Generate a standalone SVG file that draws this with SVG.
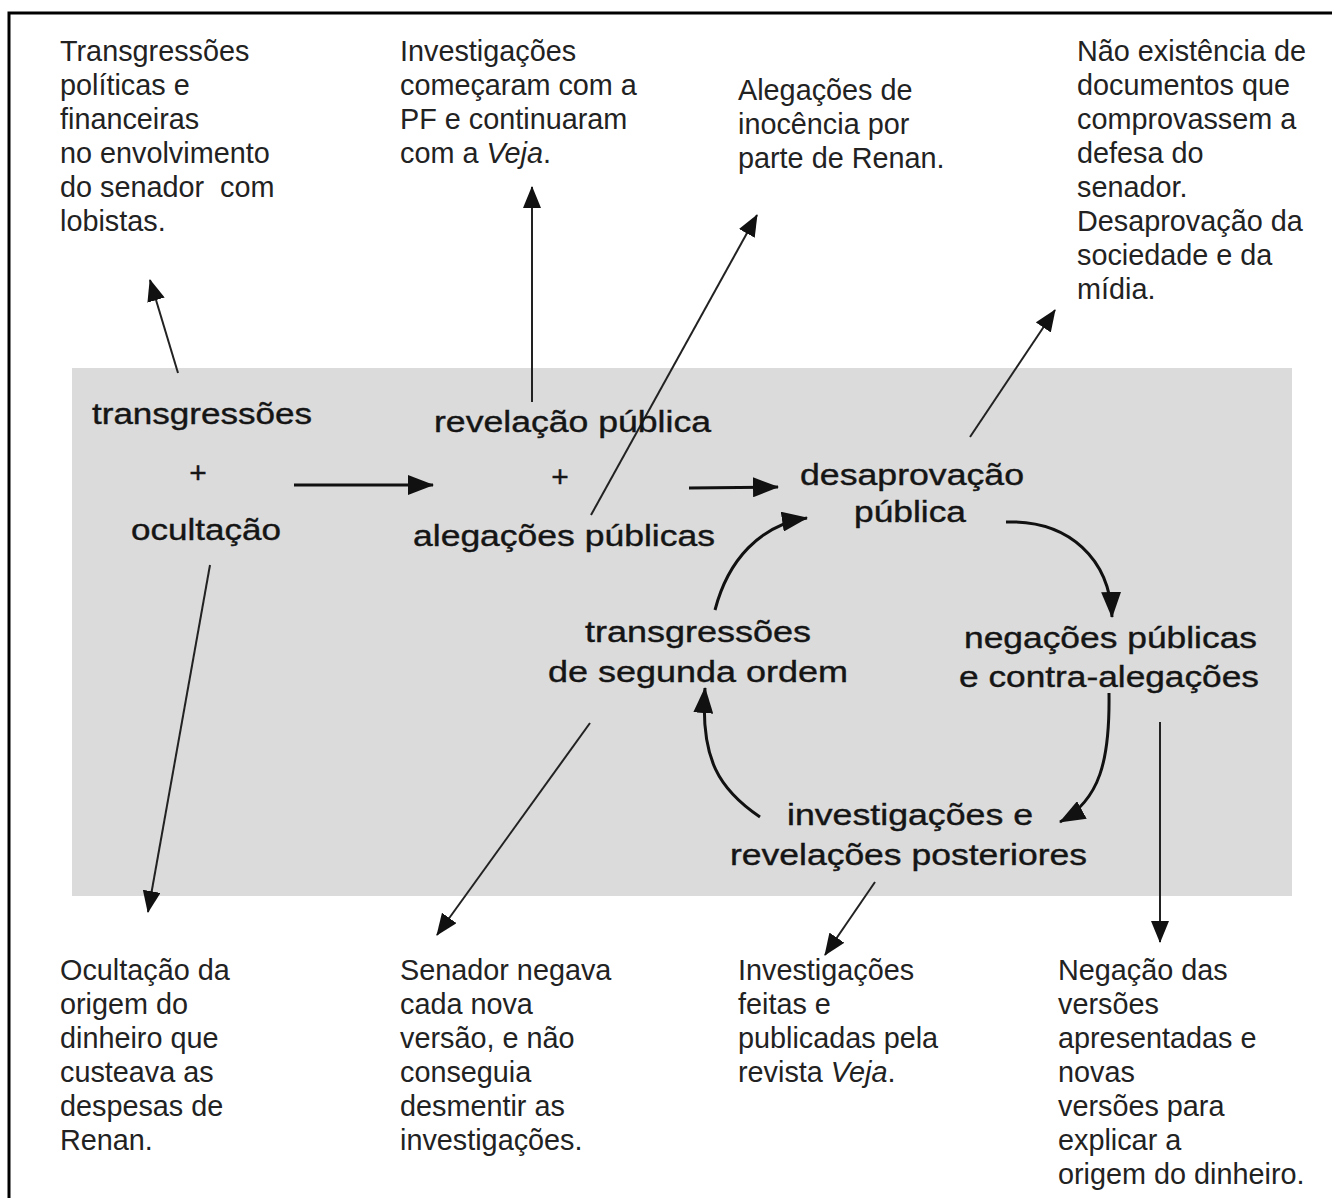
<svg xmlns="http://www.w3.org/2000/svg" width="1332" height="1198" viewBox="0 0 1332 1198">
<defs>
<style>
.ann{font-family:"Liberation Sans",Arial,sans-serif;font-size:28.8px;fill:#222}
.mid{font-family:"Liberation Sans",Arial,sans-serif;font-size:30px;fill:#151515;stroke:#151515;stroke-width:0.4}
.flow{fill:none;stroke:#111;stroke-width:3;marker-end:url(#big)}
.lead{fill:none;stroke:#222;stroke-width:2;marker-end:url(#small)}
</style>
<marker id="big" markerUnits="userSpaceOnUse" markerWidth="26" markerHeight="20" refX="25" refY="10" orient="auto">
<path d="M0,0 L26,10 L0,20 Z" fill="#111"/>
</marker>
<marker id="small" markerUnits="userSpaceOnUse" markerWidth="22" markerHeight="18" refX="21" refY="9" orient="auto">
<path d="M0,0 L22,9 L0,18 Z" fill="#111"/>
</marker>
</defs>
<rect x="0" y="0" width="1332" height="1198" fill="#ffffff"/>
<path d="M9,1198 L9,13 L1332,13" fill="none" stroke="#000" stroke-width="3"/>
<rect x="72" y="368" width="1220" height="528" fill="#dbdbdb"/>

<g id="connectors">
<path class="flow" d="M294,485 L433,485"/>
<path class="flow" d="M689,488 L778,487"/>
<path class="flow" d="M715,610 C728,560 760,525 807,518"/>
<path class="flow" d="M1006,522 C1070,520 1110,560 1112,617"/>
<path class="flow" d="M1109,693 C1110,760 1100,800 1060,822"/>
<path class="flow" d="M760,817 C720,790 700,760 705,688"/>
<path class="lead" d="M178,373 L150,280"/>
<path class="lead" d="M532,402 L532,187"/>
<path class="lead" d="M591,515 L757,215"/>
<path class="lead" d="M970,437 L1055,310"/>
<path class="lead" d="M210,565 L148,912"/>
<path class="lead" d="M590,723 L437,935"/>
<path class="lead" d="M875,882 L825,955"/>
<path class="lead" d="M1160,722 L1160,942"/>
</g>

<g id="node-transgressoes-ocultacao">
<text class="mid" x="92" y="424" textLength="220" lengthAdjust="spacingAndGlyphs">transgressões</text>
<text class="mid" x="198" y="483" text-anchor="middle">+</text>
<text class="mid" x="131" y="540" textLength="150" lengthAdjust="spacingAndGlyphs">ocultação</text>
</g>
<g id="node-revelacao-alegacoes">
<text class="mid" x="434" y="432" textLength="277" lengthAdjust="spacingAndGlyphs">revelação pública</text>
<text class="mid" x="560" y="487" text-anchor="middle">+</text>
<text class="mid" x="413" y="546" textLength="302" lengthAdjust="spacingAndGlyphs">alegações públicas</text>
</g>
<g id="node-desaprovacao">
<text class="mid" x="800" y="485" textLength="224" lengthAdjust="spacingAndGlyphs">desaprovação</text>
<text class="mid" x="854" y="522" textLength="112" lengthAdjust="spacingAndGlyphs">pública</text>
</g>
<g id="node-segunda-ordem">
<text class="mid" x="585" y="642" textLength="226" lengthAdjust="spacingAndGlyphs">transgressões</text>
<text class="mid" x="548" y="682" textLength="300" lengthAdjust="spacingAndGlyphs">de segunda ordem</text>
</g>
<g id="node-negacoes">
<text class="mid" x="964" y="648" textLength="293" lengthAdjust="spacingAndGlyphs">negações públicas</text>
<text class="mid" x="959" y="687" textLength="300" lengthAdjust="spacingAndGlyphs">e contra-alegações</text>
</g>
<g id="node-investigacoes">
<text class="mid" x="787" y="825" textLength="246" lengthAdjust="spacingAndGlyphs">investigações e</text>
<text class="mid" x="730" y="865" textLength="357" lengthAdjust="spacingAndGlyphs">revelações posteriores</text>
</g>

<g id="note-transgressoes">
<text class="ann" x="60" y="61">Transgressões</text>
<text class="ann" x="60" y="95">políticas e</text>
<text class="ann" x="60" y="129">financeiras</text>
<text class="ann" x="60" y="163">no envolvimento</text>
<text class="ann" x="60" y="197" xml:space="preserve">do senador  com</text>
<text class="ann" x="60" y="231">lobistas.</text>
</g>
<g id="note-investigacoes-pf">
<text class="ann" x="400" y="61">Investigações</text>
<text class="ann" x="400" y="95">começaram com a</text>
<text class="ann" x="400" y="129">PF e continuaram</text>
<text class="ann" x="400" y="163">com a <tspan font-style="italic">Veja</tspan>.</text>
</g>
<g id="note-alegacoes">
<text class="ann" x="738" y="100">Alegações de</text>
<text class="ann" x="738" y="134">inocência por</text>
<text class="ann" x="738" y="168">parte de Renan.</text>
</g>
<g id="note-desaprovacao">
<text class="ann" x="1077" y="61">Não existência de</text>
<text class="ann" x="1077" y="95">documentos que</text>
<text class="ann" x="1077" y="129">comprovassem a</text>
<text class="ann" x="1077" y="163">defesa do</text>
<text class="ann" x="1077" y="197">senador.</text>
<text class="ann" x="1077" y="231">Desaprovação da</text>
<text class="ann" x="1077" y="265">sociedade e da</text>
<text class="ann" x="1077" y="299">mídia.</text>
</g>
<g id="note-ocultacao">
<text class="ann" x="60" y="980">Ocultação da</text>
<text class="ann" x="60" y="1014">origem do</text>
<text class="ann" x="60" y="1048">dinheiro que</text>
<text class="ann" x="60" y="1082">custeava as</text>
<text class="ann" x="60" y="1116">despesas de</text>
<text class="ann" x="60" y="1150">Renan.</text>
</g>
<g id="note-senador">
<text class="ann" x="400" y="980">Senador negava</text>
<text class="ann" x="400" y="1014">cada nova</text>
<text class="ann" x="400" y="1048">versão, e não</text>
<text class="ann" x="400" y="1082">conseguia</text>
<text class="ann" x="400" y="1116">desmentir as</text>
<text class="ann" x="400" y="1150">investigações.</text>
</g>
<g id="note-veja">
<text class="ann" x="738" y="980">Investigações</text>
<text class="ann" x="738" y="1014">feitas e</text>
<text class="ann" x="738" y="1048">publicadas pela</text>
<text class="ann" x="738" y="1082">revista <tspan font-style="italic">Veja</tspan>.</text>
</g>
<g id="note-negacao">
<text class="ann" x="1058" y="980">Negação das</text>
<text class="ann" x="1058" y="1014">versões</text>
<text class="ann" x="1058" y="1048">apresentadas e</text>
<text class="ann" x="1058" y="1082">novas</text>
<text class="ann" x="1058" y="1116">versões para</text>
<text class="ann" x="1058" y="1150">explicar a</text>
<text class="ann" x="1058" y="1184">origem do dinheiro.</text>
</g>
</svg>
